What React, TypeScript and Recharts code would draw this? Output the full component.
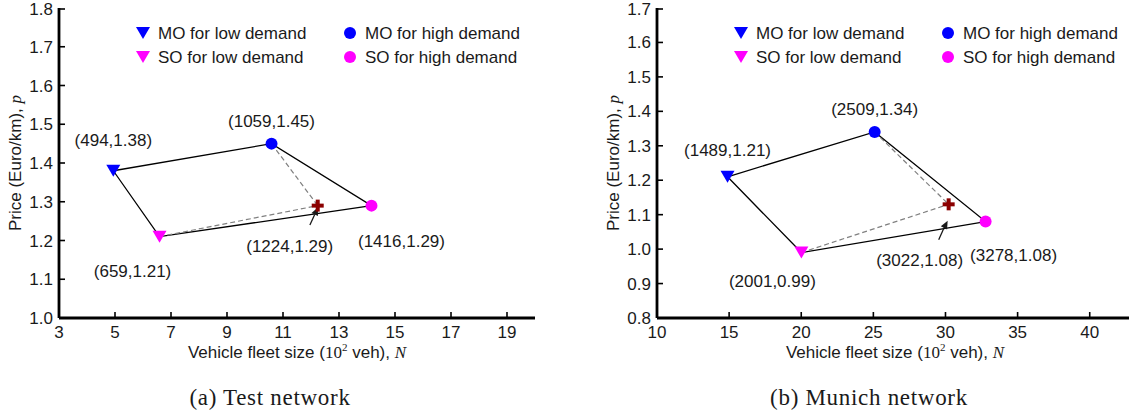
import React from 'react';
import { ScatterChart, Scatter, XAxis, YAxis } from 'recharts';

const SANS = '"Liberation Sans", Arial, sans-serif';
const SERIF = '"Liberation Serif", "Times New Roman", serif';
const INK = '#1a1a1a';

// (a) Test network, N in 10^2 veh, p in Euro/km
const testMoLow = [{ n: 4.94, p: 1.38 }];
const testMoHigh = [{ n: 10.59, p: 1.45 }];
const testSoLow = [{ n: 6.59, p: 1.21 }];
const testSoHigh = [{ n: 14.16, p: 1.29 }];
const testCross = [{ n: 12.24, p: 1.29 }];
const testArrow = [{ n: 11.96, p: 1.24 }, { n: 12.1, p: 1.262 }, { n: 12.25, p: 1.286 }];
const testLabels = ['(494,1.38)', '(1059,1.45)', '(659,1.21)', '(1416,1.29)', '(1224,1.29)'];
const testXTicks = [3, 5, 7, 9, 11, 13, 15, 17, 19];
const testYTicks = [1.0, 1.1, 1.2, 1.3, 1.4, 1.5, 1.6, 1.7, 1.8];

// (b) Munich network
const munichMoLow = [{ n: 14.89, p: 1.21 }];
const munichMoHigh = [{ n: 25.09, p: 1.34 }];
const munichSoLow = [{ n: 20.01, p: 0.99 }];
const munichSoHigh = [{ n: 32.78, p: 1.08 }];
const munichCross = [{ n: 30.22, p: 1.13 }];
const munichArrow = [{ n: 29.53, p: 1.027 }, { n: 29.88, p: 1.059 }, { n: 30.15, p: 1.082 }];
const munichLabels = ['(1489,1.21)', '(2509,1.34)', '(2001,0.99)', '(3278,1.08)', '(3022,1.08)'];
const munichXTicks = [10, 15, 20, 25, 30, 35, 40];
const munichYTicks = [0.8, 0.9, 1.0, 1.1, 1.2, 1.3, 1.4, 1.5, 1.6, 1.7];

const legendNames = ['MO for low demand', 'MO for high demand', 'SO for low demand', 'SO for high demand'];

// label offsets from the marker, px: moLow, moHigh, soLow, soHigh, cross
const testOffsets = [[0, -31], [0, -23], [-27, 34], [30, 35], [-28, 40]];
const munichOffsets = [[0, -27], [0, -23], [-29, 28], [28, 33], [-29, 56]];

const BLUE = '#0000ff';
const MAGENTA = '#ff00ff';
const MAROON = '#8b0000';

type Kind = 'tri' | 'dot' | 'plus';

const Marker = ({ kind, cx, cy, color }: { kind: Kind; cx: number; cy: number; color: string }) => {
  if (kind === 'tri') {
    return <polygon points={`${cx - 7},${cy - 6} ${cx + 7},${cy - 6} ${cx},${cy + 6}`} fill={color} />;
  }
  if (kind === 'dot') return <circle cx={cx} cy={cy} r={6} fill={color} />;
  return (
    <g fill={color}>
      <rect x={cx - 6} y={cy - 2} width={12} height={4} />
      <rect x={cx - 2} y={cy - 6} width={4} height={12} />
    </g>
  );
};

const makeShape = (kind: Kind, color: string, label: string, off: number[]) => (props: any) => {
  const { cx, cy } = props;
  return (
    <g>
      <Marker kind={kind} cx={cx} cy={cy} color={color} />
      <text x={cx + off[0]} y={cy + off[1] + 6} textAnchor="middle" fontSize={17} fontFamily={SANS} fill={INK}>
        {label}
      </text>
    </g>
  );
};

const noShape = () => <g />;

// curved arrow through the three points, head on the last one
const arrowLine = (props: any) => {
  const pts = props.points || [];
  if (pts.length < 3) return <g />;
  const [a, b, c] = pts;
  const qx = 2 * b.x - (a.x + c.x) / 2;
  const qy = 2 * b.y - (a.y + c.y) / 2;
  const ang = Math.atan2(c.y - qy, c.x - qx);
  const L = 8;
  const W = 3.5;
  const bx = c.x - L * Math.cos(ang);
  const by = c.y - L * Math.sin(ang);
  const px = -Math.sin(ang) * W;
  const py = Math.cos(ang) * W;
  return (
    <g>
      <path d={`M${a.x},${a.y} Q${qx},${qy} ${bx},${by}`} fill="none" stroke={INK} strokeWidth={1.3} />
      <polygon points={`${c.x},${c.y} ${bx + px},${by + py} ${bx - px},${by - py}`} fill={INK} />
    </g>
  );
};

const BottomTick = ({ x, y, payload }: any) => (
  <g>
    <line x1={x} x2={x} y1={y} y2={y - 6} stroke="#000" strokeWidth={1.6} />
    <text x={x} y={y + 20} textAnchor="middle" fontSize={17} fontFamily={SANS} fill={INK}>
      {payload.value}
    </text>
  </g>
);
const TopTick = ({ x, y }: any) => <line x1={x} x2={x} y1={y} y2={y + 6} stroke="#000" strokeWidth={1.6} />;
const LeftTick = ({ x, y, payload }: any) => (
  <g>
    <line x1={x} x2={x + 6} y1={y} y2={y} stroke="#000" strokeWidth={1.6} />
    <text x={x - 6} y={y + 6} textAnchor="end" fontSize={17} fontFamily={SANS} fill={INK}>
      {Number(payload.value).toFixed(1)}
    </text>
  </g>
);
const RightTick = ({ x, y }: any) => <line x1={x} x2={x - 6} y1={y} y2={y} stroke="#000" strokeWidth={1.6} />;

type Pt = { n: number; p: number };

interface PanelProps {
  left: number;
  width: number;
  marginLeft: number;
  marginRight: number;
  xDomain: [number, number];
  yDomain: [number, number];
  xTicks: number[];
  yTicks: number[];
  moLow: Pt[];
  moHigh: Pt[];
  soLow: Pt[];
  soHigh: Pt[];
  cross: Pt[];
  arrow: Pt[];
  labels: string[];
  offsets: number[][];
  plotCenter: number;
  captionX: number;
  caption: string;
  legendX: number[];
}

const Panel = (p: PanelProps) => {
  const polygon = [p.moLow[0], p.moHigh[0], p.soHigh[0], p.soLow[0], p.moLow[0]];
  const dashA = [p.moHigh[0], p.cross[0]];
  const dashB = [p.soLow[0], p.cross[0]];
  const axisLine = { stroke: '#000', strokeWidth: 2.8 };
  const thinLine = { stroke: '#000', strokeWidth: 2 };
  return (
    <div style={{ position: 'absolute', left: p.left, top: 0, width: p.width, height: 410 }}>
      <ScatterChart
        width={p.width}
        height={410}
        margin={{ top: 8, right: p.marginRight, bottom: 62, left: p.marginLeft }}
      >
        <XAxis
          type="number"
          dataKey="n"
          domain={p.xDomain}
          ticks={p.xTicks}
          allowDataOverflow
          height={30}
          tickSize={0}
          tickMargin={0}
          axisLine={axisLine}
          tick={<BottomTick />}
        />
        <XAxis
          xAxisId="top"
          orientation="top"
          type="number"
          domain={p.xDomain}
          ticks={p.xTicks}
          allowDataOverflow
          height={0}
          tickSize={0}
          tickMargin={0}
          axisLine={thinLine}
          tick={<TopTick />}
        />
        <YAxis
          type="number"
          dataKey="p"
          domain={p.yDomain}
          ticks={p.yTicks}
          allowDataOverflow
          width={40}
          tickSize={0}
          tickMargin={0}
          axisLine={axisLine}
          tick={<LeftTick />}
        />
        <YAxis
          yAxisId="right"
          orientation="right"
          type="number"
          domain={p.yDomain}
          ticks={p.yTicks}
          allowDataOverflow
          width={0}
          tickSize={0}
          tickMargin={0}
          axisLine={thinLine}
          tick={<RightTick />}
        />
        <Scatter data={polygon} line={{ stroke: '#000', strokeWidth: 1.3 }} shape={noShape} isAnimationActive={false} />
        <Scatter data={dashA} line={{ stroke: '#808080', strokeWidth: 1.2, strokeDasharray: '5 3' }} shape={noShape} isAnimationActive={false} />
        <Scatter data={dashB} line={{ stroke: '#808080', strokeWidth: 1.2, strokeDasharray: '5 3' }} shape={noShape} isAnimationActive={false} />
        <Scatter data={p.arrow} line={arrowLine} shape={noShape} isAnimationActive={false} />
        <Scatter data={p.moLow} shape={makeShape('tri', BLUE, p.labels[0], p.offsets[0])} isAnimationActive={false} />
        <Scatter data={p.moHigh} shape={makeShape('dot', BLUE, p.labels[1], p.offsets[1])} isAnimationActive={false} />
        <Scatter data={p.soLow} shape={makeShape('tri', MAGENTA, p.labels[2], p.offsets[2])} isAnimationActive={false} />
        <Scatter data={p.soHigh} shape={makeShape('dot', MAGENTA, p.labels[3], p.offsets[3])} isAnimationActive={false} />
        <Scatter data={p.cross} shape={makeShape('plus', MAROON, p.labels[4], p.offsets[4])} isAnimationActive={false} />
      </ScatterChart>
      <svg width={p.width} height={410} style={{ position: 'absolute', left: 0, top: 0, pointerEvents: 'none' }}>
        {legendNames.map((name, i) => {
          const col = i % 2;
          const row = Math.floor(i / 2);
          const mx = p.legendX[col];
          const my = 33 + row * 24;
          return (
            <g key={name}>
              <Marker kind={col === 0 ? 'tri' : 'dot'} cx={mx} cy={my} color={row === 0 ? BLUE : MAGENTA} />
              <text x={mx + 15} y={my + 6} fontSize={17} fontFamily={SANS} fill={INK}>
                {name}
              </text>
            </g>
          );
        })}
        <text x={p.plotCenter} y={358} textAnchor="middle" fontSize={17} fontFamily={SANS} fill={INK}>
          Vehicle fleet size (<tspan fontFamily={SERIF}>10</tspan>
          <tspan fontFamily={SERIF} fontSize={11} dy={-7}>2</tspan>
          <tspan dy={7}> veh), </tspan>
          <tspan fontFamily={SERIF} fontStyle="italic">N</tspan>
        </text>
        <text transform={`translate(${p.marginLeft - 19 + 21},163) rotate(-90)`} textAnchor="middle" fontSize={17} fontFamily={SANS} fill={INK}>
          Price (Euro/km), <tspan fontFamily={SERIF} fontStyle="italic">p</tspan>
        </text>
        <text x={p.captionX} y={405} textAnchor="middle" fontSize={23} letterSpacing={0.7} fontFamily={SERIF} fill={INK}>
          {p.caption}
        </text>
      </svg>
    </div>
  );
};

export default function App() {
  return (
    <div style={{ position: 'fixed', left: 0, top: 0, width: 1129, height: 410, overflow: 'hidden', background: '#fff' }}>
      <Panel
        left={0}
        width={560}
        marginLeft={19}
        marginRight={25}
        xDomain={[3, 20]}
        yDomain={[1.0, 1.8]}
        xTicks={testXTicks}
        yTicks={testYTicks}
        moLow={testMoLow}
        moHigh={testMoHigh}
        soLow={testSoLow}
        soHigh={testSoHigh}
        cross={testCross}
        arrow={testArrow}
        labels={testLabels}
        offsets={testOffsets}
        plotCenter={297}
        captionX={270}
        caption="(a) Test network"
        legendX={[143, 350]}
      />
      <Panel
        left={570}
        width={573}
        marginLeft={47}
        marginRight={10}
        xDomain={[10, 43]}
        yDomain={[0.8, 1.7]}
        xTicks={munichXTicks}
        yTicks={munichYTicks}
        moLow={munichMoLow}
        moHigh={munichMoHigh}
        soLow={munichSoLow}
        soHigh={munichSoHigh}
        cross={munichCross}
        arrow={munichArrow}
        labels={munichLabels}
        offsets={munichOffsets}
        plotCenter={325}
        captionX={299}
        caption="(b) Munich network"
        legendX={[171, 378]}
      />
    </div>
  );
}
